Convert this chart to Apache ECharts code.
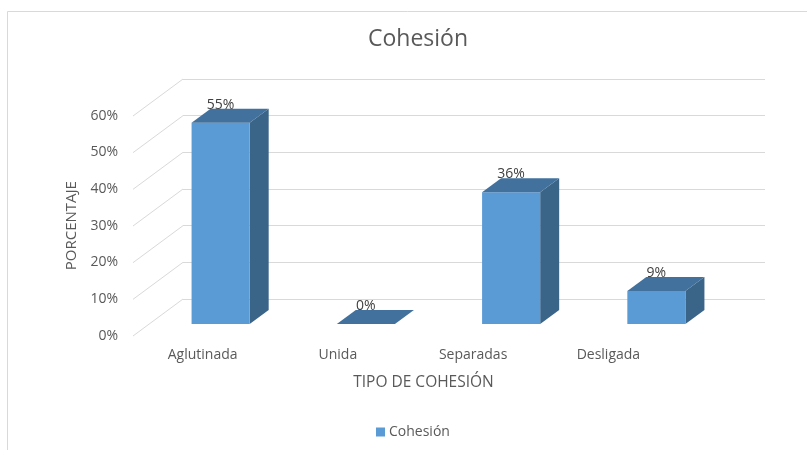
<!DOCTYPE html>
<html>
<head>
<meta charset="utf-8">
<script src="https://cdn.jsdelivr.net/npm/echarts@6/dist/echarts.min.js"></script>
<style>html,body{margin:0;padding:0;background:#fff}#c{width:807px;height:450px}</style>
</head>
<body>
<div id="c"></div>
<script>
const categories = ['Aglutinada', 'Unida', 'Separadas', 'Desligada'];
const values = [55, 0, 36, 9];
const yTicks = [0, 10, 20, 30, 40, 50, 60];
const seriesName = 'Cohesión';

const FONT = '"Open Sans", sans-serif';
const DX = 19, DY = -14;          // bar depth offset
const WDX = -50, WDY = 37;        // side wall diagonal offset

const chart = echarts.init(document.getElementById('c'), null, {renderer: 'canvas'});
chart.setOption({
  backgroundColor: '#fff',
  animation: false,
  title: {
    text: 'Cohesión', left: 413, top: 23, textAlign: 'center',
    textStyle: {fontFamily: FONT, fontSize: 23, fontWeight: 'normal', color: '#595959'}
  },
  legend: {
    data: [seriesName], top: 425, left: 376, padding: 0,
    icon: 'rect', itemWidth: 9, itemHeight: 9, itemGap: 4,
    textStyle: {fontFamily: FONT, fontSize: 14, color: '#595959', padding: [0, 0, 0, -1]}
  },
  graphic: [
    {type: 'rect', shape: {x: 7.5, y: 11.5, width: 900, height: 600}, style: {fill: null, stroke: '#d9d9d9', lineWidth: 1}, silent: true, z: -10},
    {type: 'text', style: {x: 423.5, y: 383, text: 'TIPO DE COHESIÓN', font: '15.5px ' + FONT, fill: '#595959', textAlign: 'center', textVerticalAlign: 'middle'}}
  ],
  grid: [
    {left: 148, width: 581, top: 104.4, height: 219.6},   // bar front plane
    {left: 183, width: 582, top: 79, height: 220},        // back wall
    {left: 135, width: 541, top: 115.7, height: 220}      // front labels
  ],
  xAxis: [
    {gridIndex: 0, type: 'category', data: categories, show: false},
    {gridIndex: 1, type: 'value', min: 0, max: 1, show: false},
    {gridIndex: 2, type: 'category', data: categories,
     axisLine: {show: false}, axisTick: {show: false},
     axisLabel: {margin: 12, fontFamily: FONT, fontSize: 14, color: '#595959'}}
  ],
  yAxis: [
    {gridIndex: 0, type: 'value', min: 0, max: 60, interval: 10, show: false},
    {gridIndex: 1, type: 'value', min: 0, max: 60, interval: 10,
     axisLine: {show: false}, axisTick: {show: false}, axisLabel: {show: false},
     splitLine: {show: true, lineStyle: {color: '#d9d9d9', width: 1}}},
    {gridIndex: 2, type: 'value', min: 0, max: 60, interval: 10,
     axisLine: {show: false}, axisTick: {show: false}, splitLine: {show: false},
     axisLabel: {margin: 17, formatter: '{value}%', fontFamily: FONT, fontSize: 14, color: '#595959'},
     name: 'PORCENTAJE', nameLocation: 'middle', nameGap: 54,
     nameTextStyle: {fontFamily: FONT, fontSize: 15, color: '#595959'}}
  ],
  series: [
    {
      type: 'custom', name: 'walls', xAxisIndex: 1, yAxisIndex: 1, silent: true, z: 1,
      data: yTicks.map(v => [0, v]),
      renderItem: function (params, api) {
        const p = api.coord([0, api.value(1)]);
        return {type: 'line', shape: {x1: p[0], y1: p[1], x2: p[0] + WDX, y2: p[1] + WDY},
                style: {stroke: '#d9d9d9', lineWidth: 1}};
      }
    },
    {
      type: 'custom', name: seriesName, xAxisIndex: 0, yAxisIndex: 0, z: 5,
      itemStyle: {color: '#5B9BD5'},
      data: values.map((v, i) => [i, v]),
      renderItem: function (params, api) {
        const i = api.value(0), v = api.value(1);
        const base = api.coord([i, 0]);
        const top = api.coord([i, v]);
        const w = api.size([1, 0])[0] * 0.4;
        const x0 = base[0] - w / 2, x1 = base[0] + w / 2;
        const yt = top[1], yb = base[1];
        const children = [];
        if (yb - yt > 0.5) {
          children.push({type: 'polygon', shape: {points: [[x1, yt], [x1 + DX, yt + DY], [x1 + DX, yb + DY], [x1, yb]]},
                         style: {fill: '#3A6488'}});
          children.push({type: 'rect', shape: {x: x0, y: yt, width: w, height: yb - yt},
                         style: {fill: '#5B9BD5'}});
        }
        children.push({type: 'polygon', shape: {points: [[x0, yt], [x0 + DX, yt + DY], [x1 + DX, yt + DY], [x1, yt]]},
                       style: {fill: '#41719C'}});
        children.push({type: 'text', style: {x: base[0], y: yt - 18, text: v + '%', textAlign: 'center', textVerticalAlign: 'middle',
                       font: '14px ' + FONT, fill: '#404040'}});
        return {type: 'group', children: children};
      }
    }
  ]
});
</script>
</body>
</html>
